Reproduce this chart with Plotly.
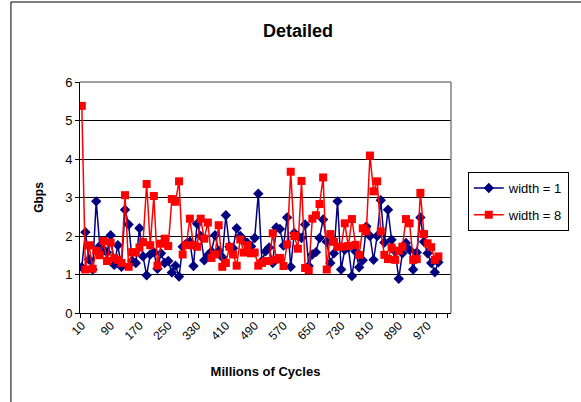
import plotly.graph_objects as go

cycles = [10 + 10 * i for i in range(100)]

width1 = [1.19, 2.10, 1.39, 1.13, 2.90, 1.74, 1.65, 1.57, 2.02, 1.25,
          1.76, 1.20, 2.68, 2.30, 1.35, 1.30, 2.20, 1.47, 0.98, 1.52,
          1.58, 1.15, 1.55, 1.30, 1.35, 1.05, 1.23, 0.95, 1.72, 1.80,
          1.85, 1.22, 2.32, 2.00, 1.37, 1.50, 1.60, 2.02, 1.62, 1.45,
          2.54, 1.72, 1.68, 2.20, 2.00, 1.88, 1.82, 1.73, 1.95, 3.10,
          1.35, 1.60, 1.70, 1.30, 2.22, 2.18, 1.75, 2.48, 1.20, 2.08,
          2.00, 1.95, 2.30, 1.22, 1.52, 1.58, 1.95, 2.43, 1.85, 1.30,
          1.55, 2.90, 1.13, 1.64, 1.70, 0.96, 1.60, 1.19, 1.37, 2.25,
          2.00, 1.38, 2.00, 2.93, 1.83, 2.68, 1.90, 1.60, 0.89, 1.55,
          1.82, 1.64, 1.13, 1.57, 2.48, 1.85, 1.55, 1.30, 1.06, 1.32]

width8 = [5.38, 1.13, 1.76, 1.15, 1.62, 1.50, 1.87, 1.35, 1.83, 1.43,
          1.38, 1.30, 3.06, 1.20, 1.58, 1.57, 1.70, 1.84, 3.35, 1.76,
          3.04, 1.23, 1.80, 1.93, 1.74, 2.96, 2.89, 3.42, 1.52, 1.76,
          2.45, 1.76, 1.72, 2.45, 1.93, 2.35, 1.43, 1.52, 2.28, 1.20,
          1.30, 1.72, 1.52, 1.23, 1.91, 1.57, 1.76, 1.55, 1.57, 1.23,
          1.30, 1.35, 1.35, 2.07, 1.39, 1.43, 1.22, 1.78, 3.67, 2.00,
          1.67, 3.43, 1.17, 1.11, 2.45, 2.54, 2.83, 3.52, 1.13, 2.05,
          1.85, 1.72, 1.72, 2.33, 1.74, 2.44, 1.77, 1.51, 2.20, 2.12,
          4.09, 3.16, 3.42, 2.12, 1.51, 1.40, 1.70, 1.38, 1.62, 1.72,
          2.44, 2.33, 1.38, 1.40, 3.12, 2.05, 1.81, 1.71, 1.38, 1.47]

tick_labels = [10, 90, 170, 250, 330, 410, 490, 570, 650, 730, 810, 890, 970]
y_ticks = [0, 1, 2, 3, 4, 5, 6]

FONT = "Liberation Sans, Arial, sans-serif"

fig = go.Figure()
fig.add_trace(go.Scatter(
    x=cycles, y=width1, name="width = 1", mode="lines+markers",
    legendgroup="a",
    line=dict(color="#000080", width=1.5),
    marker=dict(symbol="diamond", size=8, color="#000080"),
))
fig.add_trace(go.Scatter(
    x=cycles, y=width8, name="width = 8", mode="lines+markers",
    legendgroup="b",
    line=dict(color="#FF0000", width=1.5),
    marker=dict(symbol="square", size=8, color="#FF0000"),
))

fig.update_layout(
    width=581, height=402,
    margin=dict(l=80, r=125, t=82, b=89),
    paper_bgcolor="white", plot_bgcolor="white",
    font=dict(family=FONT, color="black", size=12),
    title=dict(text="<b>Detailed</b>", x=(298 / 581), xanchor="center",
               y=1 - 31 / 402, yanchor="middle",
               font=dict(size=18, family=FONT, color="black")),
    showlegend=True,
    legend=dict(x=(473 - 80) / 376, y=(313 - 172) / 231, xanchor="left", yanchor="top",
                bordercolor="black", borderwidth=1, bgcolor="white",
                font=dict(size=13, family=FONT), tracegroupgap=7,
                itemwidth=30),
    xaxis=dict(
        range=[5, 1035], tickmode="array", tickvals=tick_labels,
        ticktext=[str(v) for v in tick_labels], tickangle=-45,
        ticks="", showgrid=False, zeroline=False,
        showline=True, linecolor="black", linewidth=1,
        tickfont=dict(size=12, family=FONT),
        minor=dict(tickmode="linear", tick0=5, dtick=30, ticks="outside",
                   ticklen=4, tickcolor="black", showgrid=False),
        title=dict(text="<b>Millions of Cycles</b>", standoff=24,
                   font=dict(size=13, family=FONT)),
        fixedrange=True,
    ),
    yaxis=dict(
        range=[0, 6], tickmode="array", tickvals=y_ticks,
        ticks="outside", ticklen=4, tickcolor="black",
        showgrid=True, gridcolor="black", gridwidth=1, zeroline=False,
        showline=True, linecolor="black", linewidth=1,
        tickfont=dict(size=13, family=FONT),
        title=dict(text="<b>Gbps</b>", standoff=18,
                   font=dict(size=12, family=FONT)),
        fixedrange=True,
    ),
    shapes=[
        dict(type="line", xref="paper", yref="paper", x0=0, x1=1, y0=1, y1=1,
             line=dict(color="#808080", width=1.5), layer="above"),
        dict(type="line", xref="paper", yref="paper", x0=1, x1=1, y0=0, y1=1,
             line=dict(color="#808080", width=1.5), layer="above"),
        dict(type="rect", xref="paper", yref="paper",
             x0=(10 - 80) / 376, x1=2.0, y0=-1.0, y1=(313 - 2) / 231,
             line=dict(color="black", width=1), layer="below"),
    ],
)

fig.write_html("out.html")
